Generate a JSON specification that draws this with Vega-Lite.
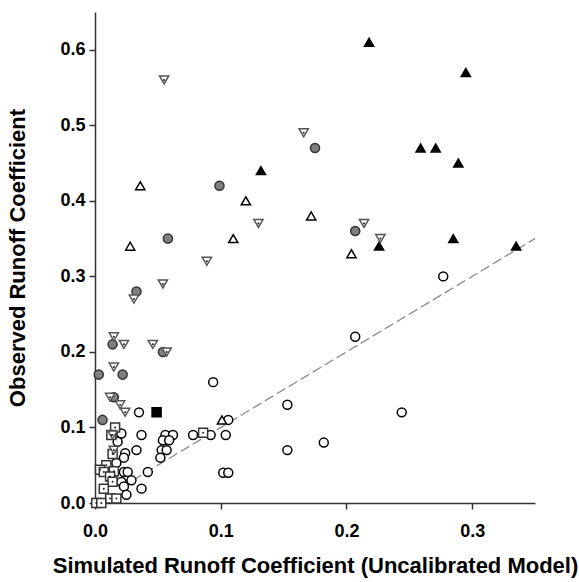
{
  "$schema": "https://vega.github.io/schema/vega-lite/v6.json",
  "autosize": "none",
  "width": 440,
  "height": 491,
  "padding": {"left": 95, "top": 12, "right": 44, "bottom": 79},
  "background": "white",
  "config": {
    "view": {"stroke": null},
    "axis": {
      "grid": false,
      "labelFlush": false,
      "domainColor": "#333333",
      "domainWidth": 1.5,
      "tickColor": "#333333",
      "tickWidth": 1.5,
      "tickSize": 6,
      "labelFont": "Liberation Sans",
      "labelFontWeight": "bold",
      "labelFontSize": 18,
      "labelColor": "#000000",
      "titleFont": "Liberation Sans",
      "titleFontWeight": "bold",
      "titleFontSize": 22,
      "titleColor": "#000000"
    }
  },
  "datasets": {
    "pts": [
      {"x": 0.277, "y": 0.30, "type": "oc"},
      {"x": 0.207, "y": 0.22, "type": "oc"},
      {"x": 0.094, "y": 0.16, "type": "oc"},
      {"x": 0.153, "y": 0.13, "type": "oc"},
      {"x": 0.244, "y": 0.12, "type": "oc"},
      {"x": 0.106, "y": 0.11, "type": "oc"},
      {"x": 0.092, "y": 0.09, "type": "oc"},
      {"x": 0.104, "y": 0.09, "type": "oc"},
      {"x": 0.182, "y": 0.08, "type": "oc"},
      {"x": 0.153, "y": 0.07, "type": "oc"},
      {"x": 0.102, "y": 0.04, "type": "oc"},
      {"x": 0.106, "y": 0.04, "type": "oc"},
      {"x": 0.035, "y": 0.12, "type": "oc"},
      {"x": 0.078, "y": 0.09, "type": "oc"},
      {"x": 0.056, "y": 0.09, "type": "oc"},
      {"x": 0.062, "y": 0.09, "type": "oc"},
      {"x": 0.054, "y": 0.083, "type": "oc"},
      {"x": 0.059, "y": 0.083, "type": "oc"},
      {"x": 0.053, "y": 0.07, "type": "oc"},
      {"x": 0.057, "y": 0.07, "type": "oc"},
      {"x": 0.052, "y": 0.06, "type": "oc"},
      {"x": 0.037, "y": 0.09, "type": "oc"},
      {"x": 0.021, "y": 0.092, "type": "oc"},
      {"x": 0.018, "y": 0.081, "type": "oc"},
      {"x": 0.033, "y": 0.07, "type": "oc"},
      {"x": 0.024, "y": 0.066, "type": "oc"},
      {"x": 0.023, "y": 0.06, "type": "oc"},
      {"x": 0.017, "y": 0.053, "type": "oc"},
      {"x": 0.042, "y": 0.041, "type": "oc"},
      {"x": 0.023, "y": 0.041, "type": "oc"},
      {"x": 0.026, "y": 0.041, "type": "oc"},
      {"x": 0.029, "y": 0.03, "type": "oc"},
      {"x": 0.021, "y": 0.028, "type": "oc"},
      {"x": 0.023, "y": 0.022, "type": "oc"},
      {"x": 0.037, "y": 0.019, "type": "oc"},
      {"x": 0.025, "y": 0.011, "type": "oc"},
      {"x": 0.016, "y": 0.10, "type": "ds"},
      {"x": 0.013, "y": 0.09, "type": "ds"},
      {"x": 0.014, "y": 0.065, "type": "ds"},
      {"x": 0.009, "y": 0.05, "type": "ds"},
      {"x": 0.004, "y": 0.044, "type": "ds"},
      {"x": 0.007, "y": 0.041, "type": "ds"},
      {"x": 0.015, "y": 0.042, "type": "ds"},
      {"x": 0.012, "y": 0.035, "type": "ds"},
      {"x": 0.014, "y": 0.028, "type": "ds"},
      {"x": 0.007, "y": 0.019, "type": "ds"},
      {"x": 0.012, "y": 0.006, "type": "ds"},
      {"x": 0.017, "y": 0.006, "type": "ds"},
      {"x": 0.001, "y": 0.0, "type": "ds"},
      {"x": 0.005, "y": 0.0, "type": "ds"},
      {"x": 0.086, "y": 0.093, "type": "ds"},
      {"x": 0.049, "y": 0.12, "type": "bs"},
      {"x": 0.099, "y": 0.42, "type": "gc"},
      {"x": 0.175, "y": 0.47, "type": "gc"},
      {"x": 0.058, "y": 0.35, "type": "gc"},
      {"x": 0.033, "y": 0.28, "type": "gc"},
      {"x": 0.207, "y": 0.36, "type": "gc"},
      {"x": 0.014, "y": 0.21, "type": "gc"},
      {"x": 0.003, "y": 0.17, "type": "gc"},
      {"x": 0.022, "y": 0.17, "type": "gc"},
      {"x": 0.054, "y": 0.20, "type": "gc"},
      {"x": 0.015, "y": 0.14, "type": "gc"},
      {"x": 0.006, "y": 0.11, "type": "gc"},
      {"x": 0.218, "y": 0.61, "type": "bt"},
      {"x": 0.295, "y": 0.57, "type": "bt"},
      {"x": 0.259, "y": 0.47, "type": "bt"},
      {"x": 0.271, "y": 0.47, "type": "bt"},
      {"x": 0.289, "y": 0.45, "type": "bt"},
      {"x": 0.132, "y": 0.44, "type": "bt"},
      {"x": 0.285, "y": 0.35, "type": "bt"},
      {"x": 0.335, "y": 0.34, "type": "bt"},
      {"x": 0.226, "y": 0.34, "type": "bt"},
      {"x": 0.036, "y": 0.42, "type": "ot"},
      {"x": 0.028, "y": 0.34, "type": "ot"},
      {"x": 0.12, "y": 0.40, "type": "ot"},
      {"x": 0.11, "y": 0.35, "type": "ot"},
      {"x": 0.172, "y": 0.38, "type": "ot"},
      {"x": 0.204, "y": 0.33, "type": "ot"},
      {"x": 0.101, "y": 0.11, "type": "ot"},
      {"x": 0.055, "y": 0.56, "type": "dt"},
      {"x": 0.166, "y": 0.49, "type": "dt"},
      {"x": 0.13, "y": 0.37, "type": "dt"},
      {"x": 0.089, "y": 0.32, "type": "dt"},
      {"x": 0.054, "y": 0.29, "type": "dt"},
      {"x": 0.031, "y": 0.27, "type": "dt"},
      {"x": 0.214, "y": 0.37, "type": "dt"},
      {"x": 0.227, "y": 0.35, "type": "dt"},
      {"x": 0.015, "y": 0.22, "type": "dt"},
      {"x": 0.023, "y": 0.21, "type": "dt"},
      {"x": 0.046, "y": 0.21, "type": "dt"},
      {"x": 0.057, "y": 0.20, "type": "dt"},
      {"x": 0.015, "y": 0.18, "type": "dt"},
      {"x": 0.012, "y": 0.14, "type": "dt"},
      {"x": 0.02, "y": 0.13, "type": "dt"},
      {"x": 0.024, "y": 0.12, "type": "dt"},
      {"x": 0.014, "y": 0.09, "type": "dt"},
      {"x": 0.015, "y": 0.07, "type": "dt"}
    ],
    "oneone": [
      {"x": 0.03, "y": 0.03},
      {"x": 0.35, "y": 0.35}
    ]
  },
  "layer": [
    {
      "data": {"name": "oneone"},
      "mark": {"type": "line", "color": "#8a8a8a", "strokeWidth": 1.3, "strokeDash": [10, 4]},
      "encoding": {
        "x": {"field": "x", "type": "quantitative", "scale": {"domain": [0, 0.35], "nice": false}},
        "y": {"field": "y", "type": "quantitative", "scale": {"domain": [0, 0.65], "nice": false}}
      }
    },
    {
      "data": {"name": "pts"},
      "mark": {"type": "point", "filled": true, "opacity": 1, "strokeWidth": 1.5},
      "encoding": {
        "x": {
          "field": "x", "type": "quantitative",
          "scale": {"domain": [0, 0.35], "nice": false},
          "axis": {"values": [0, 0.1, 0.2, 0.3], "format": ".1f", "labelPadding": 13, "title": "Simulated Runoff Coefficient (Uncalibrated Model)", "titlePadding": 15}
        },
        "y": {
          "field": "y", "type": "quantitative",
          "scale": {"domain": [0, 0.65], "nice": false},
          "axis": {"values": [0, 0.1, 0.2, 0.3, 0.4, 0.5, 0.6], "format": ".1f", "labelPadding": 4, "title": "Observed Runoff Coefficient", "titlePadding": 30}
        },
        "shape": {"field": "type", "type": "nominal", "legend": null,
          "scale": {"domain": ["oc", "ds", "bs", "gc", "bt", "ot", "dt"], "range": ["circle", "square", "square", "circle", "triangle-up", "triangle-up", "triangle-down"]}},
        "fill": {"field": "type", "type": "nominal", "legend": null,
          "scale": {"domain": ["oc", "ds", "bs", "gc", "bt", "ot", "dt"], "range": ["#ffffff", "#ffffff", "#000000", "#7f7f7f", "#000000", "#ffffff", "#ffffff"]}},
        "stroke": {"field": "type", "type": "nominal", "legend": null,
          "scale": {"domain": ["oc", "ds", "bs", "gc", "bt", "ot", "dt"], "range": ["#000000", "#333333", "#000000", "#333333", "#000000", "#000000", "#555555"]}},
        "size": {"field": "type", "type": "nominal", "legend": null,
          "scale": {"domain": ["oc", "ds", "bs", "gc", "bt", "ot", "dt"], "range": [80, 85, 85, 80, 110, 110, 100]}}
      }
    },
    {
      "data": {"name": "pts"},
      "transform": [{"filter": {"field": "type", "oneOf": ["ds", "dt"]}}],
      "mark": {"type": "point", "shape": "circle", "filled": true, "size": 4, "color": "#222222", "opacity": 1},
      "encoding": {
        "x": {"field": "x", "type": "quantitative"},
        "y": {"field": "y", "type": "quantitative"}
      }
    }
  ]
}
